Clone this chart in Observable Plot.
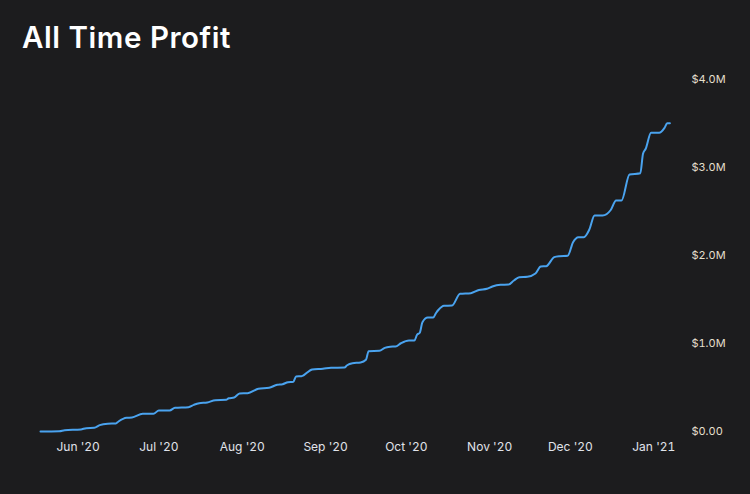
<!DOCTYPE html>
<html>
<head>
<meta charset="utf-8">
<script src="https://cdn.jsdelivr.net/npm/d3@7"></script>
<script src="https://cdn.jsdelivr.net/npm/@observablehq/plot@0.6"></script>
<style>
  html, body { margin: 0; padding: 0; background: #1c1c1e; }
  #wrap { position: relative; width: 750px; height: 494px; background: #1c1c1e; overflow: hidden; }
  #title { position: absolute; left: 22px; top: 19px; font-family: Inter, "Noto Sans", sans-serif; font-weight: 600; font-size: 29.5px; color: #ffffff; letter-spacing: 0.55px; }
  #chart { position: absolute; left: 0; top: 0; }
</style>
</head>
<body>
<div id="wrap">
  <div id="chart"></div>
  <div id="title">All Time Profit</div>
</div>
<script>
const title = "All Time Profit";
const dates = [
  "2020-05-18","2020-05-25","2020-05-27","2020-06-02","2020-06-04","2020-06-07","2020-06-09","2020-06-12","2020-06-15","2020-06-16",
  "2020-06-19","2020-06-21","2020-06-25","2020-06-29","2020-07-01","2020-07-05","2020-07-07","2020-07-12","2020-07-14","2020-07-16",
  "2020-07-19","2020-07-22","2020-07-26","2020-07-27","2020-07-29","2020-07-31","2020-08-03","2020-08-07","2020-08-11","2020-08-14",
  "2020-08-16","2020-08-18","2020-08-20","2020-08-21","2020-08-23","2020-08-27","2020-08-31","2020-09-03","2020-09-08","2020-09-09",
  "2020-09-11","2020-09-14","2020-09-16","2020-09-17","2020-09-21","2020-09-23","2020-09-25","2020-09-27","2020-09-29","2020-10-02",
  "2020-10-04","2020-10-05","2020-10-06","2020-10-07","2020-10-09","2020-10-11","2020-10-12","2020-10-13","2020-10-15","2020-10-18",
  "2020-10-21","2020-10-25","2020-10-28","2020-10-31","2020-11-02","2020-11-05","2020-11-08","2020-11-10","2020-11-12","2020-11-15",
  "2020-11-18","2020-11-20","2020-11-22","2020-11-25","2020-11-27","2020-11-30","2020-12-02","2020-12-04","2020-12-06","2020-12-08",
  "2020-12-10","2020-12-13","2020-12-16","2020-12-18","2020-12-20","2020-12-23","2020-12-27","2020-12-28","2020-12-29","2020-12-31",
  "2021-01-03","2021-01-05","2021-01-06","2021-01-07"
];
// profit in millions of USD
const profit = [
  0.000,0.003,0.015,0.023,0.038,0.042,0.072,0.088,0.091,0.114,
  0.156,0.159,0.201,0.201,0.239,0.239,0.269,0.276,0.303,0.322,
  0.330,0.356,0.360,0.378,0.386,0.432,0.435,0.485,0.497,0.531,
  0.538,0.560,0.565,0.625,0.628,0.705,0.713,0.724,0.727,0.753,
  0.776,0.784,0.815,0.913,0.917,0.951,0.963,0.966,1.003,1.034,
  1.034,1.099,1.122,1.242,1.295,1.295,1.344,1.383,1.428,1.432,
  1.565,1.572,1.608,1.622,1.648,1.667,1.670,1.716,1.753,1.758,
  1.795,1.875,1.878,1.981,1.992,1.997,2.151,2.208,2.208,2.292,
  2.455,2.455,2.517,2.625,2.625,2.920,2.935,3.156,3.213,3.394,
  3.394,3.451,3.503,3.503
];
const yTicks = [0, 1, 2, 3, 4];
const xTicks = ["2020-06-01","2020-07-01","2020-08-01","2020-09-01","2020-10-01","2020-11-01","2020-12-01","2021-01-01"];

const data = dates.map((d, i) => ({date: new Date(d + "T00:00:00Z"), value: profit[i]}));

const chart = Plot.plot({
  width: 750,
  height: 494,
  marginLeft: 40,
  marginRight: 80.6,
  marginTop: 79,
  marginBottom: 63,
  style: {background: "transparent", fontFamily: "Inter, 'Noto Sans', sans-serif", overflow: "visible"},
  x: {
    type: "utc",
    domain: [new Date("2020-05-18T00:00:00Z"), new Date("2021-01-07T00:00:00Z")]
  },
  y: {domain: [0, 4]},
  marks: [
    Plot.axisX({
      ticks: xTicks.map(d => new Date(d + "T00:00:00Z")),
      tickFormat: d3.utcFormat("%b '%y"),
      tickSize: 0,
      tickPadding: 11,
      fontSize: 12,
      fill: "#e0e3ea",
      label: null
    }),
    Plot.axisY({
      anchor: "right",
      ticks: yTicks,
      tickFormat: d => d === 0 ? "$0.00" : `$${d.toFixed(1)}M`,
      tickSize: 0,
      tickPadding: 21.5,
      fontSize: 11,
      fill: "#e4dfcc",
      label: null
    }),
    Plot.line(data, {x: "date", y: "value", stroke: "#4aa3ef", strokeWidth: 2, curve: "monotone-x"})
  ]
});
document.getElementById("chart").appendChild(chart);
</script>
</body>
</html>
